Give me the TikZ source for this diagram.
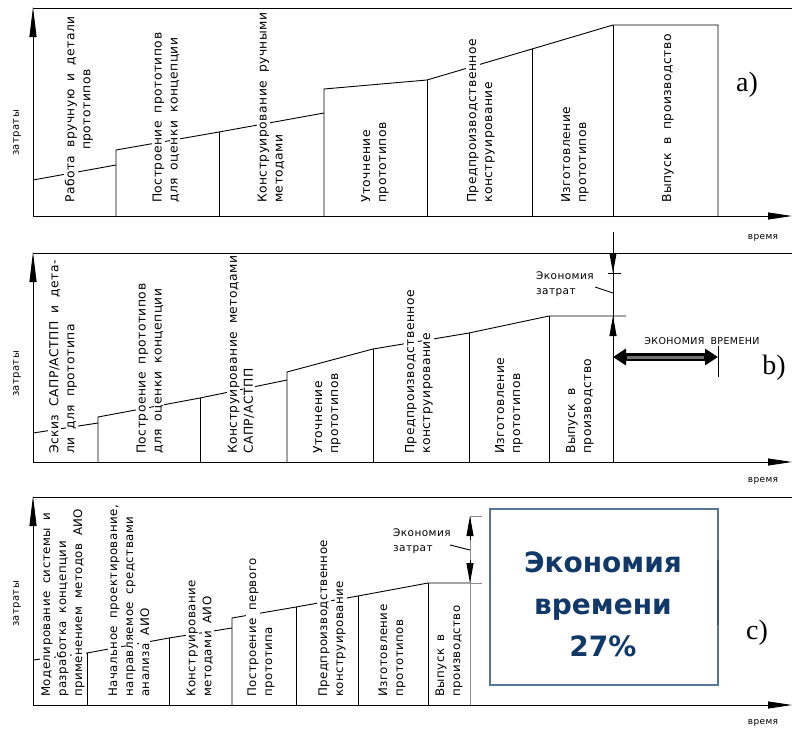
\documentclass[tikz,border=0pt]{standalone}
\usepackage{fontspec}
\setmainfont{DejaVu Sans}
\newfontfamily\cad[LetterSpace=4,WordSpace=1.8]{DejaVu Sans}
\newfontfamily\serifx{Liberation Serif}
\usetikzlibrary{arrows.meta}
\definecolor{boxc}{RGB}{84,118,156}
\definecolor{navy}{RGB}{16,56,104}
\newcommand\wbox[1]{{\setlength\fboxsep{1pt}\colorbox{white}{#1}}}
\tikzset{
  ln/.style={line width=0.9pt},
  lbl/.style={rotate=90, anchor=west, align=left, inner sep=0pt, font=\cad\fontsize{12.3}{16}\selectfont},
  lblc/.style={lbl, align=center},
  lbls/.style={lbl, font=\cad\fontsize{11.8}{16}\selectfont},
  axlbl/.style={rotate=90, inner sep=0pt, font=\cad\fontsize{10}{12}\selectfont},
  tlbl/.style={inner sep=0pt, font=\cad\fontsize{9}{11}\selectfont},
  sav/.style={align=left, anchor=west, inner sep=0pt, font=\cad\fontsize{10.5}{15}\selectfont},
  panl/.style={inner sep=0pt, font=\serifx\fontsize{28}{30}\selectfont},
  axarr/.style={ln, -{Triangle[length=30pt,width=7pt]}},
  harr/.style={ln, -{Triangle[length=24pt,width=7pt]}},
  tip/.style={ln, -{Triangle[length=20pt,width=7pt]}}
}
\begin{document}
\begin{tikzpicture}[x=1pt,y=-1pt]
\useasboundingbox (0,0) rectangle (792,731);
% ================= panel a =================
\draw[ln] (33,8) -- (792,8);
\draw[axarr] (33,216) coordinate (a0) -- (33,7);
\draw[harr] (a0) -- (792,216);
\draw[ln] (33,180) -- (116,165);
\draw[ln] (116,216) -- (116,150) -- (219,132) -- (324,113);
\draw[ln] (219,216) -- (219,132);
\draw[ln] (324,216) -- (324,89) -- (427,80) -- (532,49) -- (613,25) -- (718,25) -- (718,216);
\draw[ln] (427,216) -- (427,80);
\draw[ln] (532,216) -- (532,49);
\draw[ln] (613,216) -- (613,25);
\node[axlbl] (az) at (17,133) {затраты};
\node[tlbl] (at) at (763,238) {время};
\node[panl] (ap) at (747,85) {a)};
\node[lblc] (a1) at (79,204) {\wbox{Работа вручную и детали}\\\wbox{прототипов}};
\node[lbl] (a2) at (166,204) {\wbox{Построение прототипов}\\\wbox{для оценки концепции}};
\node[lbl] (a3) at (271,204) {\wbox{Конструирование ручными}\\\wbox{методами}};
\node[lbl] (a4) at (375,204) {\wbox{Уточнение}\\\wbox{прототипов}};
\node[lbl] (a5) at (481,204) {\wbox{Предпроизводственное}\\\wbox{конструирование}};
\node[lbl] (a6) at (575,204) {\wbox{Изготовление}\\\wbox{прототипов}};
\node[lbl] (a7) at (668,204) {\wbox{Выпуск в производство}};
% ================= panel b =================
\draw[ln] (33,253) -- (792,253);
\draw[axarr] (33,462) coordinate (b0) -- (33,252);
\draw[harr] (b0) -- (792,462);
\draw[ln] (33,433) -- (98,423);
\draw[ln] (98,462) -- (98,417) -- (200,398) -- (287,380);
\draw[ln] (200,462) -- (200,398);
\draw[ln] (287,462) -- (287,372) -- (373,349) -- (469,333) -- (549,316) -- (626,316);
\draw[ln] (373,462) -- (373,349);
\draw[ln] (469,462) -- (469,333);
\draw[ln] (549,462) -- (549,316);
\draw[ln] (613,232) coordinate (bs) -- (613,462);
\draw[ln] (608,273) -- (621,273);
\draw[tip] (613,245) -- (613,273);
\draw[tip] (613,345) -- (613,316);
\draw[ln] (595,287) -- (613,293);
\node[sav] (bs1) at (536,284) {Экономия\\затрат};
\node[tlbl, font=\cad\fontsize{9.5}{11}\selectfont] (bt2) at (702,341) {ЭКОНОМИЯ ВРЕМЕНИ};
\draw[line width=8pt, {Triangle[length=13pt,width=16pt]}-{Triangle[length=13pt,width=16pt]}] (613,357) -- (718,357);
\draw[black!55, line width=3pt] (627,357) -- (704,357);
\draw[ln] (718,346) -- (718,377);
\node[axlbl] (bz) at (17,374) {затраты};
\node[tlbl] (bt) at (763,481) {время};
\node[panl] (bp) at (774,368) {b)};
\node[lbl] (b1) at (63,455) {\wbox{Эскиз САПР/АСТПП и дета-}\\\wbox{ли для прототипа}};
\node[lbl] (b2) at (150,455) {\wbox{Построение прототипов}\\\wbox{для оценки концепции}};
\node[lbl] (b3) at (241,455) {\wbox{Конструирование методами}\\\wbox{САПР/АСТПП}};
\node[lbl] (b4) at (327,455) {\wbox{Уточнение}\\\wbox{прототипов}};
\node[lbl] (b5) at (419,455) {\wbox{Предпроизводственное}\\\wbox{конструирование}};
\node[lbl] (b6) at (509,455) {\wbox{Изготовление}\\\wbox{прототипов}};
\node[lbl] (b7) at (580,455) {\wbox{Выпуск в}\\\wbox{производство}};
% ================= panel c =================
\draw[ln] (33,497) -- (792,497);
\draw[axarr] (33,705) coordinate (c0) -- (33,496);
\draw[harr] (c0) -- (792,705);
\draw[ln] (33,660) -- (87,653) -- (169,638) -- (232,628);
\draw[ln] (87,705) -- (87,653);
\draw[ln] (169,705) -- (169,638);
\draw[ln] (232,705) -- (232,618) -- (296,607) -- (358,596) -- (428,583) -- (470,583);
\draw[ln] (296,705) -- (296,607);
\draw[ln] (358,705) -- (358,596);
\draw[ln] (428,705) -- (428,583);
\draw[ln, black!45] (470,516) -- (470,705);
\draw[ln, black!45] (470,516) -- (482,516);
\draw[ln, black!45] (470,583) -- (482,583);
\draw[tip] (470,540) -- (470,516);
\draw[tip] (470,560) -- (470,583);
\draw[ln] (450,545) -- (470,550);
\node[sav] (cs1) at (393,541) {Экономия\\затрат};
\draw[boxc, line width=1.2pt] (490,509) rectangle (718,685);
\draw[boxc!70!black, line width=1.4pt] (718,560) -- (718,625);
\node[align=center, inner sep=0pt, text=navy, font=\bfseries\fontsize{28}{42}\selectfont] (cbox) at (603,604) {Экономия\\времени\\27\%};
\node[axlbl] (cz) at (17,604) {затраты};
\node[tlbl] (ct) at (763,723) {время};
\node[panl] (cp) at (757,633) {c)};
\node[lbls] (c1) at (63,698) {\wbox{Моделирование системы и}\\\wbox{разработка концепции}\\\wbox{применением методов АИО}};
\node[lbls] (c2) at (129,698) {\wbox{Начальное проектирование,}\\\wbox{направляемое средствами}\\\wbox{анализа АИО}};
\node[lbls] (c3) at (200,698) {\wbox{Конструирование}\\\wbox{методами АИО}};
\node[lbls] (c4) at (261,698) {\wbox{Построение первого}\\\wbox{прототипа}};
\node[lbls] (c5) at (332,698) {\wbox{Предпроизводственное}\\\wbox{конструирование}};
\node[lbls] (c6) at (392,698) {\wbox{Изготовление}\\\wbox{прототипов}};
\node[lbls] (c7) at (449,698) {\wbox{Выпуск в}\\\wbox{производство}};
\end{tikzpicture}
\end{document}
